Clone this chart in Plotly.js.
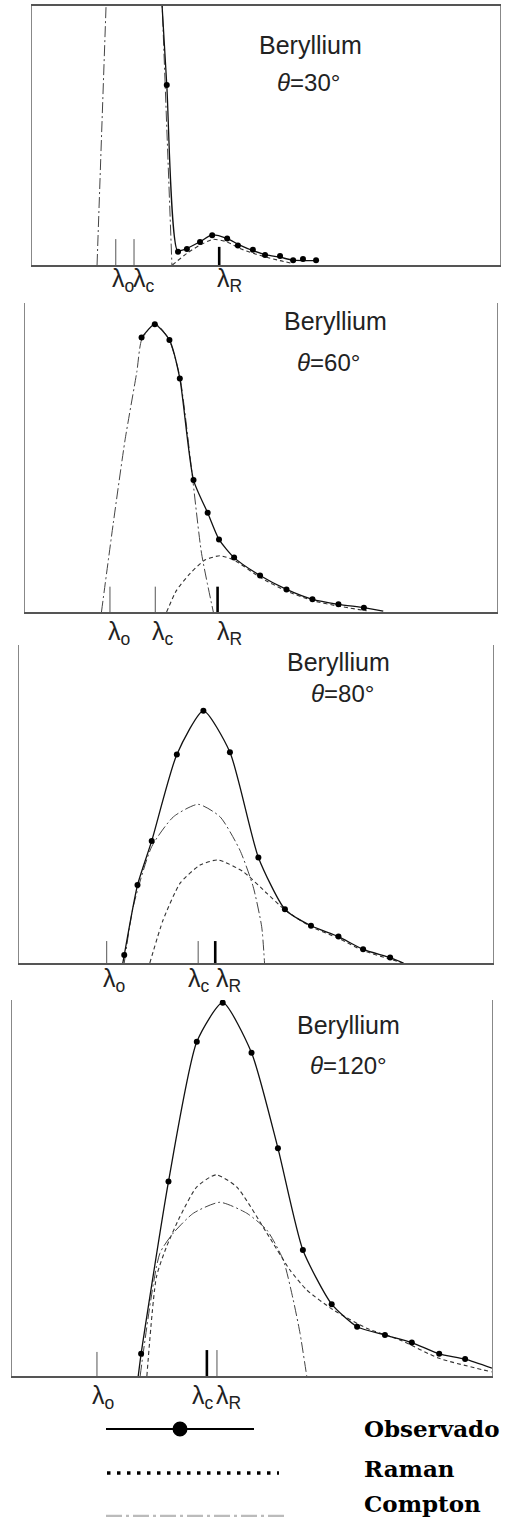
<!DOCTYPE html>
<html><head><meta charset="utf-8">
<script src="https://cdn.plot.ly/plotly-3.0.1.min.js"></script>
<style>html,body{margin:0;padding:0;background:#fff;}#chart{width:507px;height:1517px;}</style>
</head><body><div id="chart"></div>
<script>
// ---------- DATA (x: relative wavelength 0-100, y: relative intensity 0-100) ----------
const lambdaLabels = ['λ<sub>o</sub>', 'λ<sub>c</sub>', 'λ<sub>R</sub>'];
const angleLabels = ['30°', '60°', '80°', '120°'];
const element = 'Beryllium';
const legendNames = ['Observado', 'Raman', 'Compton'];

// Panel 1 : θ = 30°
const p1ObsX = [28.8, 31.2, 33.1, 35.9, 38.5, 41.7, 44.0, 47.2, 49.8, 53.0, 55.8, 57.9, 60.7];
const p1ObsY = [69.5, 5.1, 6.2, 8.9, 11.5, 10.2, 7.5, 5.9, 3.9, 3.5, 1.8, 2.3, 1.8];
const p1FitX = [27.6, 28.8, 31.1, 33.1, 35.9, 38.5, 41.6, 44.4, 47.3, 50.1, 53.0, 55.7, 60.7];
const p1FitY = [106, 69.5, 5.5, 6.4, 9.0, 11.6, 10.3, 7.7, 5.5, 3.9, 3.0, 1.9, 1.7];
const p1RamanX = [30.0, 33.1, 35.9, 38.7, 41.6, 44.4, 47.3, 50.1, 53.0, 55.7];
const p1RamanY = [0, 4.5, 7.7, 9.9, 9.0, 6.4, 4.5, 3.0, 1.7, 0.6];
const p1ComptonX = [13.9, 16.4, 27.2, 29.9];
const p1ComptonY = [0, 130, 130, 0];
const p1Lambda = [17.9, 21.8, 40.0];
const p1LambdaH = [10, 10, 7];

// Panel 2 : θ = 60°
const p2ObsX = [24.7, 27.5, 30.6, 32.8, 35.7, 38.7, 41.1, 44.3, 49.8, 55.4, 60.9, 66.4, 71.8];
const p2ObsY = [88.8, 93.1, 88.0, 75.6, 42.7, 32.1, 23.5, 17.6, 11.8, 7.3, 4.1, 2.5, 1.4];
const p2FitX = [24.7, 27.5, 30.6, 32.8, 35.7, 38.7, 41.1, 44.3, 49.8, 55.4, 60.9, 66.4, 71.8, 75.9];
const p2FitY = [88.8, 93.1, 88.0, 75.6, 42.7, 32.1, 23.5, 17.6, 11.8, 7.3, 4.1, 2.5, 1.4, 0.3];
const p2RamanX = [30.0, 32.1, 35.0, 38.1, 41.3, 44.3, 49.8, 55.4, 60.9, 66.4, 72.4];
const p2RamanY = [0, 7.0, 12.5, 16.8, 18.2, 16.8, 11.2, 6.8, 3.7, 1.9, 0.4];
const p2ComptonX = [16.2, 18.7, 21.2, 23.7, 24.7, 27.5, 30.4, 32.8, 35.3, 37.4, 39.9];
const p2ComptonY = [0, 28.7, 55.7, 77.8, 88.0, 93.4, 88.6, 76.2, 46.0, 19.0, 0];
const p2Lambda = [18.0, 27.6, 40.8];
const p2LambdaH = [8.2, 8.2, 8.2];

// Panel 3 : θ = 80°
const p3ObsX = [22.2, 25.0, 28.0, 33.3, 38.9, 44.5, 50.5, 56.1, 61.6, 67.4, 72.6, 78.3];
const p3ObsY = [2.5, 24.5, 38.4, 65.6, 79.3, 66.3, 33.2, 16.9, 11.7, 8.3, 4.3, 1.7];
const p3FitX = [21.9, 22.2, 25.0, 28.0, 33.3, 38.9, 44.5, 50.5, 56.1, 61.6, 67.4, 72.6, 78.3, 81.1];
const p3FitY = [0, 2.5, 24.5, 38.4, 65.6, 79.3, 66.3, 33.2, 16.9, 11.7, 8.3, 4.3, 1.7, 0];
const p3RamanX = [27.6, 30.4, 34.0, 38.2, 42.0, 47.3, 52.3, 56.1, 61.6, 67.4, 72.6, 78.3, 81.1];
const p3RamanY = [0, 13.5, 25.1, 30.8, 32.4, 28.7, 21.9, 16.7, 11.4, 7.8, 3.9, 1.2, 0];
const p3ComptonX = [22.2, 24.1, 28.0, 32.6, 37.8, 42.4, 46.6, 49.4, 51.2, 51.8];
const p3ComptonY = [0, 17.7, 36.6, 46.0, 49.9, 46.0, 35.5, 24.0, 11.4, 0];
const p3Lambda = [18.5, 37.8, 41.4];
const p3LambdaH = [6.9, 6.9, 6.9];

// Panel 4 : θ = 120°
const p4ObsX = [26.9, 32.6, 38.5, 43.9, 49.9, 55.4, 60.6, 66.6, 71.9, 77.7, 83.3, 89.0, 94.4];
const p4ObsY = [5.9, 51.7, 88.9, 99.3, 86.0, 60.6, 33.5, 19.1, 13.1, 10.9, 8.9, 5.9, 4.5];
const p4FitX = [26.3, 26.9, 32.6, 38.5, 43.9, 49.9, 55.4, 60.6, 66.6, 71.9, 77.7, 83.3, 89.0, 94.4, 100];
const p4FitY = [0, 5.9, 51.7, 88.9, 99.3, 86.0, 60.6, 33.5, 19.1, 13.1, 10.9, 8.9, 5.9, 4.5, 2.1];
const p4RamanX = [28.1, 30.1, 32.2, 35.0, 38.5, 42.5, 46.8, 53.1, 57.9, 61.4, 66.9, 73.9, 80.8, 89.0, 99.9];
const p4RamanY = [0, 26.4, 34.4, 42.4, 50.3, 53.5, 50.3, 38.0, 28.2, 22.9, 17.6, 12.7, 9.6, 4.7, 1.1];
const p4ComptonX = [26.7, 30.8, 33.6, 37.8, 43.3, 48.9, 53.1, 56.5, 58.6, 60.0, 61.4];
const p4ComptonY = [0, 32.6, 38.0, 43.3, 46.2, 43.3, 38.8, 30.9, 20.2, 11.4, 0];
const p4Lambda = [17.7, 40.6, 42.7];
const p4LambdaH = [6.4, 6.9, 6.9];

// ---------- LAYOUT HELPERS ----------
const W = 507, H = 1517;
const xp = px => px / W;
const yp = py => 1 - py / H;

const panels = [
  {obsX:p1ObsX, obsY:p1ObsY, fitX:p1FitX, fitY:p1FitY, ramX:p1RamanX, ramY:p1RamanY, comX:p1ComptonX, comY:p1ComptonY,
   lam:p1Lambda, lamH:p1LambdaH, thick:2,
   box:[32,500,6,265], full:true, labY:280, labX:[123,144,229], title:[310,45], theta:[308,82]},
  {obsX:p2ObsX, obsY:p2ObsY, fitX:p2FitX, fitY:p2FitY, ramX:p2RamanX, ramY:p2RamanY, comX:p2ComptonX, comY:p2ComptonY,
   lam:p2Lambda, lamH:p2LambdaH, thick:2,
   box:[25,497,303,612], full:false, labY:633, labX:[119,163,229], title:[335,321], theta:[328,363]},
  {obsX:p3ObsX, obsY:p3ObsY, fitX:p3FitX, fitY:p3FitY, ramX:p3RamanX, ramY:p3RamanY, comX:p3ComptonX, comY:p3ComptonY,
   lam:p3Lambda, lamH:p3LambdaH, thick:2,
   box:[19,493,645,963], full:false, labY:980, labX:[114,199,228], title:[338,662], theta:[342,693]},
  {obsX:p4ObsX, obsY:p4ObsY, fitX:p4FitX, fitY:p4FitY, ramX:p4RamanX, ramY:p4RamanY, comX:p4ComptonX, comY:p4ComptonY,
   lam:p4Lambda, lamH:p4LambdaH, thick:1,
   box:[12,492,1000,1376], full:false, labY:1397, labX:[103,203,228], title:[348,1025], theta:[348,1065]}
];

const traces = [];
const layout = {
  width: W, height: H, margin:{l:0,r:0,t:0,b:0},
  paper_bgcolor:'#fff', plot_bgcolor:'#fff', showlegend:false,
  annotations:[], shapes:[]
};
const titleFont = {family:'Liberation Sans, Arial, sans-serif', size:25, color:'#222'};
const thetaFont = {family:'Liberation Sans, Arial, sans-serif', size:24, color:'#222'};
const lambdaFont = {family:'Liberation Sans, Arial, sans-serif', size:25, color:'#222'};

panels.forEach((p, i) => {
  const n = i + 1;
  const xa = 'x' + (n === 1 ? '' : n), ya = 'y' + (n === 1 ? '' : n);
  const [l, r, t, b] = p.box;
  layout['xaxis' + (n === 1 ? '' : n)] = {
    domain:[xp(l), xp(r)], range:[0,100], anchor:ya,
    showgrid:false, zeroline:false, showticklabels:false, ticks:'',
    showline:true, linecolor:'#555', linewidth:1.6, mirror:p.full
  };
  layout['yaxis' + (n === 1 ? '' : n)] = {
    domain:[yp(b), yp(t)], range:[0,100], anchor:xa,
    showgrid:false, zeroline:false, showticklabels:false, ticks:'',
    showline:true, linecolor:'#888', linewidth:1.1, mirror:true
  };
  // Compton (dash-dot)
  traces.push({x:p.comX, y:p.comY, xaxis:xa, yaxis:ya, mode:'lines',
    line:{color:'#444', width:1, dash:'11px,3px,2px,3px', shape: n===1 ? 'linear' : 'spline', smoothing:0.6}});
  // Raman (dashed)
  traces.push({x:p.ramX, y:p.ramY, xaxis:xa, yaxis:ya, mode:'lines',
    line:{color:'#333', width:1.1, dash:'4px,3px', shape:'spline', smoothing:0.6}});
  // Observed fit (solid)
  traces.push({x:p.fitX, y:p.fitY, xaxis:xa, yaxis:ya, mode:'lines',
    line:{color:'#111', width:1.3, shape:'spline', smoothing:0.6}});
  // Observed points
  traces.push({x:p.obsX, y:p.obsY, xaxis:xa, yaxis:ya, mode:'markers',
    marker:{color:'#000', size:6}, cliponaxis:true});
  // Lambda markers
  const thinX = [], thinY = [], thickX = [], thickY = [];
  p.lam.forEach((v, k) => {
    const tx = (k === p.thick) ? thickX : thinX;
    const ty = (k === p.thick) ? thickY : thinY;
    tx.push(v, v, null); ty.push(0, p.lamH[k], null);
  });
  traces.push({x:thinX, y:thinY, xaxis:xa, yaxis:ya, mode:'lines', line:{color:'#555', width:1}});
  traces.push({x:thickX, y:thickY, xaxis:xa, yaxis:ya, mode:'lines', line:{color:'#000', width:2.6}});
  // lambda labels
  lambdaLabels.forEach((txt, k) => {
    layout.annotations.push({xref:'paper', yref:'paper', x:xp(p.labX[k]), y:yp(p.labY),
      text:txt, showarrow:false, xanchor:'center', yanchor:'middle', font:lambdaFont});
  });
  // panel titles
  layout.annotations.push({xref:'paper', yref:'paper', x:xp(p.title[0]), y:yp(p.title[1]),
    text:element, showarrow:false, xanchor:'center', yanchor:'middle', font:titleFont});
  layout.annotations.push({xref:'paper', yref:'paper', x:xp(p.theta[0]), y:yp(p.theta[1]),
    text:'<i>θ</i>=' + angleLabels[i], showarrow:false, xanchor:'center', yanchor:'middle', font:thetaFont});
});

// ---------- LEGEND ----------
layout.shapes.push({type:'line', xref:'paper', yref:'paper', x0:xp(106), x1:xp(254), y0:yp(1429), y1:yp(1429),
  line:{color:'#000', width:2}});
layout.shapes.push({type:'circle', xref:'paper', yref:'paper', x0:xp(172.5), x1:xp(187.5), y0:yp(1436.5), y1:yp(1421.5),
  fillcolor:'#000', line:{color:'#000', width:0}});
layout.shapes.push({type:'line', xref:'paper', yref:'paper', x0:xp(107), x1:xp(279), y0:yp(1473), y1:yp(1473),
  line:{color:'#000', width:3.5, dash:'3.5px,6.5px'}});
layout.shapes.push({type:'line', xref:'paper', yref:'paper', x0:xp(106), x1:xp(284), y0:yp(1516), y1:yp(1516),
  line:{color:'#bbb', width:2.5, dash:'16px,4px,3px,4px'}});
const legendY = [1428, 1468, 1503];
legendNames.forEach((nm, k) => {
  layout.annotations.push({xref:'paper', yref:'paper', x:xp(362), y:yp(legendY[k]), text:'<b>' + nm + '</b>',
    showarrow:false, xanchor:'left', yanchor:'middle',
    font:{family:'DejaVu Serif, serif', size:23, color:'#000'}});
});

Plotly.newPlot('chart', traces, layout, {staticPlot:true, displayModeBar:false});
</script></body></html>
